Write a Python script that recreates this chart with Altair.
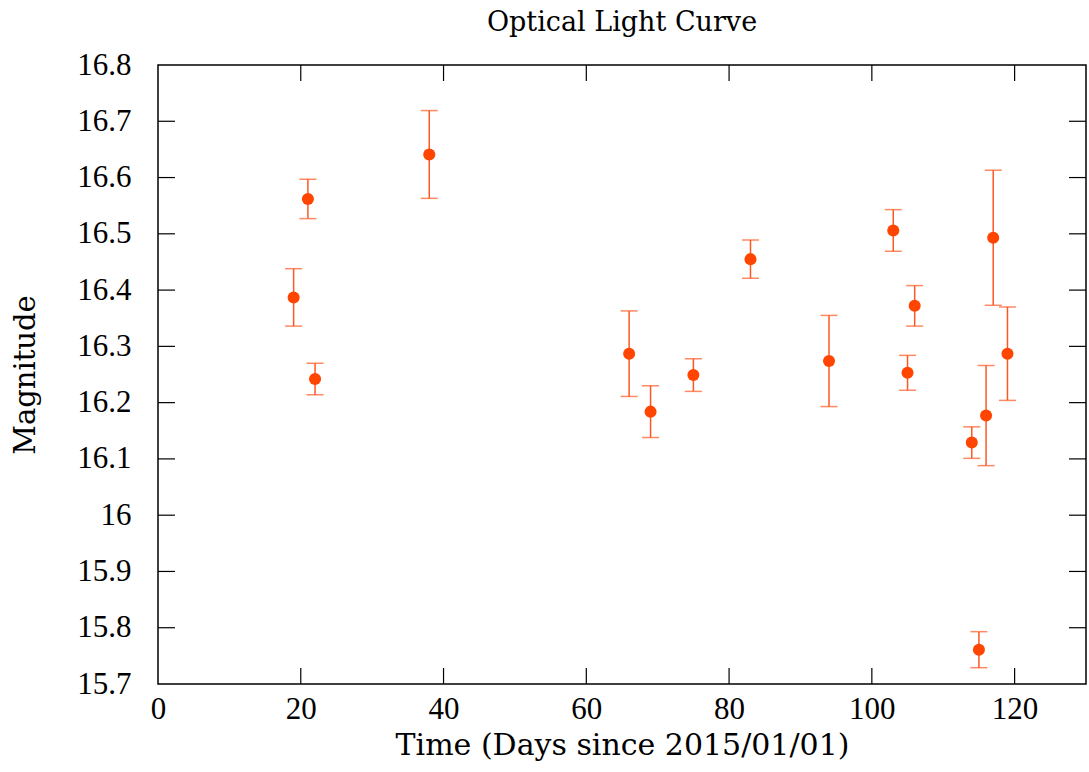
import altair as alt
import pandas as pd

# Observation epochs (days since 2015/01/01), magnitudes and 1-sigma errors
days = [19, 21, 22, 38, 66, 69, 75, 83, 94, 103, 105, 106, 114, 115, 116, 117, 119]
mags = [16.387, 16.562, 16.242, 16.641, 16.287, 16.184, 16.249, 16.455, 16.274,
        16.506, 16.253, 16.372, 16.129, 15.761, 16.177, 16.493, 16.287]
errs = [0.051, 0.035, 0.028, 0.078, 0.076, 0.046, 0.029, 0.034, 0.081,
        0.037, 0.031, 0.036, 0.028, 0.032, 0.089, 0.120, 0.083]

x_ticks = [0, 20, 40, 60, 80, 100, 120]
y_ticks = [15.7, 15.8, 15.9, 16.0, 16.1, 16.2, 16.3, 16.4, 16.5, 16.6, 16.7, 16.8]

W, H = 928, 619
FONT = "Liberation Serif"
TFONT = "DejaVu Serif"
POINT = "#ff4500"
BAR = "#ff5722"

df = pd.DataFrame({"t": days, "m": mags, "e": errs})
df["lo"] = df["m"] - df["e"]
df["hi"] = df["m"] + df["e"]

xs = alt.Scale(domain=[0, 130], nice=False, zero=False)
ys = alt.Scale(domain=[15.7, 16.8], nice=False, zero=False)

axis_common = dict(labelFont=FONT, labelFontSize=31, labelColor="black",
                   titleFont=TFONT, titleColor="black", titleFontWeight="normal",
                   ticks=False, domain=False, grid=False, labelFlush=False)
x_axis = alt.Axis(values=x_ticks, labelPadding=10,
                  title="Time (Days since 2015/01/01)", titlePadding=6,
                  titleFontSize=30, **axis_common)
y_axis = alt.Axis(values=y_ticks, labelPadding=27, title="Magnitude",
                  titlePadding=36, titleFontSize=29,
                  labelExpr="format(datum.value, '.1~f')", **axis_common)

base = alt.Chart(df)

bars = base.mark_rule(color=BAR, strokeWidth=1.5).encode(
    x=alt.X("t:Q", scale=xs, axis=x_axis),
    y=alt.Y("lo:Q", scale=ys, axis=y_axis),
    y2="hi:Q",
)
cap_hi = base.mark_tick(color=BAR, orient="horizontal", size=17, thickness=1.5).encode(
    x=alt.X("t:Q", scale=xs, axis=x_axis), y=alt.Y("hi:Q", scale=ys, axis=y_axis)
)
cap_lo = base.mark_tick(color=BAR, orient="horizontal", size=17, thickness=1.5).encode(
    x=alt.X("t:Q", scale=xs, axis=x_axis), y=alt.Y("lo:Q", scale=ys, axis=y_axis)
)
points = base.mark_circle(color=POINT, opacity=1, size=145).encode(
    x=alt.X("t:Q", scale=xs, axis=x_axis), y=alt.Y("m:Q", scale=ys, axis=y_axis)
)

# Inward-pointing ticks on all four sides of the frame
xt = alt.Chart(pd.DataFrame({"v": x_ticks[1:]}))
yt = alt.Chart(pd.DataFrame({"v": y_ticks[1:-1]}))
tick_style = dict(color="black", strokeWidth=1.2)
bottom_ticks = xt.mark_rule(**tick_style).encode(
    x=alt.X("v:Q", scale=xs, axis=x_axis), y=alt.value(H - 16), y2=alt.value(H))
top_ticks = xt.mark_rule(**tick_style).encode(
    x=alt.X("v:Q", scale=xs, axis=x_axis), y=alt.value(0), y2=alt.value(16))
left_ticks = yt.mark_rule(**tick_style).encode(
    y=alt.Y("v:Q", scale=ys, axis=y_axis), x=alt.value(0), x2=alt.value(17))
right_ticks = yt.mark_rule(**tick_style).encode(
    y=alt.Y("v:Q", scale=ys, axis=y_axis), x=alt.value(W - 17), x2=alt.value(W))

chart = (
    alt.layer(bars, cap_hi, cap_lo, points,
              bottom_ticks, top_ticks, left_ticks, right_ticks)
    .properties(
        width=W, height=H,
        title=alt.TitleParams("Optical Light Curve", font=TFONT, fontSize=27,
                              fontWeight="normal", color="black", offset=12),
        autosize=alt.AutoSizeParams(type="none"),
        padding={"left": 158, "top": 65, "right": 3, "bottom": 88},
        background="white",
    )
    .configure_view(stroke="black", strokeWidth=1.5)
)

chart.save("out.html", embed_options={"renderer": "svg", "actions": False})
